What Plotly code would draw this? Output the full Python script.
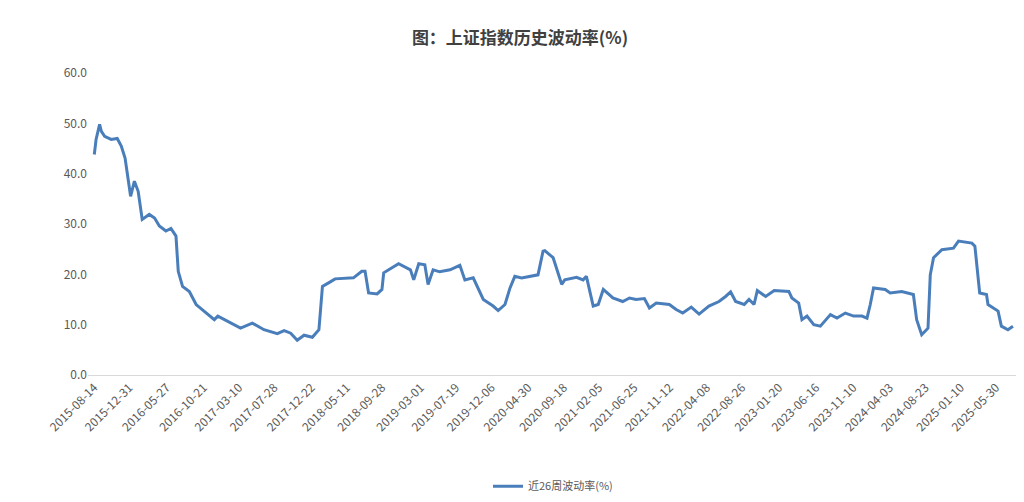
import plotly.graph_objects as go

dates = ["2015-08-14","2015-08-21","2015-09-04","2015-09-11","2015-09-24","2015-10-20","2015-11-13","2015-11-29","2015-12-14","2015-12-25",
"2016-01-05","2016-01-20","2016-02-04","2016-02-20","2016-03-19","2016-04-09","2016-04-28","2016-05-24","2016-06-13","2016-07-03",
"2016-07-12","2016-07-29","2016-08-25","2016-09-21","2016-10-23","2016-12-02","2016-12-16","2017-01-24","2017-03-16","2017-05-02",
"2017-06-17","2017-08-09","2017-09-05","2017-10-01","2017-10-27","2017-11-23","2017-12-26","2018-01-21","2018-02-04","2018-03-07",
"2018-03-26","2018-06-07","2018-07-10","2018-07-23","2018-08-06","2018-09-09","2018-09-28","2018-10-05","2018-12-03","2019-01-19",
"2019-02-01","2019-02-21","2019-03-17","2019-03-30","2019-04-19","2019-05-15","2019-06-25","2019-08-03","2019-08-23","2019-09-25",
"2019-11-04","2019-12-13","2020-01-02","2020-01-29","2020-02-18","2020-03-08","2020-04-04","2020-06-08","2020-06-28","2020-07-05",
"2020-07-24","2020-08-07","2020-09-10","2020-09-22","2020-11-08","2020-12-04","2020-12-17","2021-01-13","2021-02-02","2021-02-22",
"2021-04-01","2021-05-10","2021-06-06","2021-07-02","2021-08-04","2021-08-24","2021-09-20","2021-11-11","2021-12-08","2022-01-03",
"2022-02-06","2022-03-09","2022-04-17","2022-05-27","2022-06-22","2022-07-12","2022-08-01","2022-09-04","2022-09-23","2022-10-13",
"2022-10-26","2022-11-28","2023-01-01","2023-02-28","2023-03-12","2023-04-08","2023-04-21","2023-05-11","2023-06-07","2023-07-03",
"2023-08-12","2023-09-07","2023-10-10","2023-11-12","2023-12-15","2024-01-04","2024-01-17","2024-01-30","2024-03-16","2024-04-05",
"2024-05-21","2024-07-06","2024-07-19","2024-08-08","2024-09-02","2024-09-11","2024-09-24","2024-10-27","2024-12-12","2025-01-01",
"2025-02-23","2025-03-07","2025-03-26","2025-04-22","2025-04-28","2025-06-07","2025-06-20","2025-07-16","2025-08-05"]
vol = [43.8,46.8,49.8,48.4,47.4,46.8,47.0,45.5,43.1,39.5,
35.5,38.5,36.5,30.9,31.9,31.2,29.6,28.6,29.1,27.6,
20.6,17.6,16.6,14.0,12.7,11.0,11.7,10.7,9.3,10.3,
9.0,8.2,8.8,8.3,6.9,7.9,7.5,9.0,17.6,18.5,
19.1,19.3,20.6,20.6,16.3,16.1,17.0,20.3,22.1,20.9,
18.9,22.1,21.9,18.0,20.9,20.5,20.9,21.8,18.9,19.3,
15.0,13.7,12.8,14.0,17.3,19.6,19.3,19.9,24.6,24.7,
23.9,23.3,18.0,18.9,19.4,18.9,19.6,13.7,14.0,17.0,
15.3,14.6,15.3,15.0,15.2,13.3,14.3,14.0,13.0,12.3,
13.5,12.1,13.7,14.6,15.6,16.5,14.6,14.0,15.0,14.0,
16.8,15.6,16.8,16.6,15.3,14.3,11.0,11.7,10.0,9.7,
12.0,11.3,12.3,11.7,11.7,11.3,14.0,17.3,17.0,16.3,
16.6,16.0,11.0,8.0,9.3,19.9,23.3,24.9,25.2,26.6,
26.2,25.6,16.3,16.0,14.0,12.7,9.7,9.0,9.7]
tick_labels = ["2015-08-14","2015-12-31","2016-05-27","2016-10-21","2017-03-10","2017-07-28","2017-12-22",
"2018-05-11","2018-09-28","2019-03-01","2019-07-19","2019-12-06","2020-04-30","2020-09-18","2021-02-05",
"2021-06-25","2021-11-12","2022-04-08","2022-08-26","2023-01-20","2023-06-16","2023-11-10","2024-04-03",
"2024-08-23","2025-01-10","2025-05-30"]
y_ticks = [0, 10, 20, 30, 40, 50, 60]

fig = go.Figure(go.Scatter(x=dates, y=vol, mode="lines", name="近26周波动率(%)",
                           line=dict(color="#4a7ebb", width=3)))
fig.update_layout(
    width=1024, height=502, paper_bgcolor="white", plot_bgcolor="white",
    margin=dict(l=80, r=14, t=65, b=135, autoexpand=False),
    font=dict(family="Noto Sans CJK SC", color="#595959", size=12),
    title=dict(text="<b>图：上证指数历史波动率(%)</b>", x=0.5, xanchor="center", y=0.94, yanchor="middle",
               font=dict(size=17, color="#404040")),
    showlegend=True,
    legend=dict(orientation="h", x=0.5, xanchor="center", y=-0.32, yanchor="top", font=dict(size=11)),
    xaxis=dict(type="date", tickmode="array", tickvals=tick_labels, ticktext=tick_labels, automargin=False,
               tickangle=-45, showgrid=False, showline=True, linecolor="#d9d9d9",
               range=["2015-07-20", "2025-08-25"], tickfont=dict(size=12)),
    yaxis=dict(range=[0, 60], tickvals=y_ticks, tickformat=".1f", showgrid=False, automargin=False,
               zeroline=False, tickfont=dict(size=12)),
)
fig.write_html("out.html")
